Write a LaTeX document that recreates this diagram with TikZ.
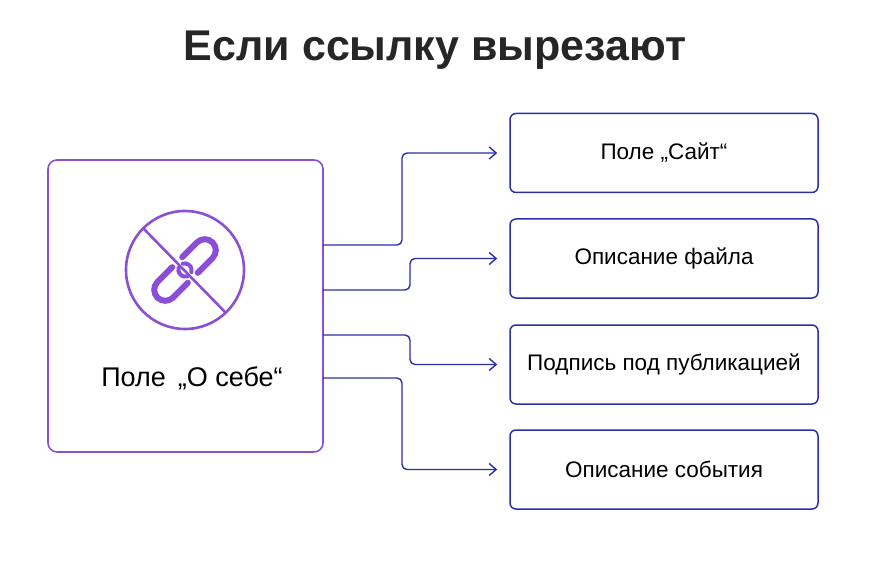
\documentclass[tikz,border=0pt]{standalone}
\usepackage{fontspec}
\setmainfont{Liberation Sans}
\usetikzlibrary{arrows.meta}
\definecolor{linkviolet}{HTML}{8A4FD6}
\definecolor{boxblue}{HTML}{2B2FA8}
\tikzset{
  target/.style={draw=boxblue, line width=1.5pt, rounded corners=6pt, minimum width=308pt, minimum height=79pt, font=\fontsize{22.5}{26}\selectfont},
  feed/.style={draw=boxblue, line width=1.4pt, rounded corners=5pt, -{Straight Barb[length=7pt,width=12pt]}},
}
\begin{document}
\begin{tikzpicture}[x=1pt,y=-1pt]
  \useasboundingbox (0,0) rectangle (870,580);
  \node[font=\fontsize{43}{48}\selectfont\bfseries, text=black!85] (title) at (435,50) {Если ссылку вырезают};
  % source box
  \node[draw=linkviolet, line width=1.6pt, rounded corners=9pt, minimum width=275pt, minimum height=292pt] (src) at (185.5,306) {};
  \node[font=\fontsize{27}{31}\selectfont] (srclabel) at (192,378) {Поле \,„О себе“};
  % icon
  \draw[linkviolet, line width=2.6pt] (185,270) circle (59);
  \draw[linkviolet, line width=2.6pt] (143,228) -- (225,312);
  \begin{scope}[shift={(185,270)}, rotate=45, linkviolet, line width=6pt, line cap=round]
    \draw (7,-11) -- (28,-11) arc (-90:90:11) -- (7,11);
    \draw (-7,-11) -- (-28,-11) arc (270:90:11) -- (-7,11);
    \draw[line width=4pt] (3,-6) arc (-60:60:7);
    \draw[line width=4pt] (-3,-6) arc (240:120:7);
  \end{scope}
  % targets
  \node[target] (site) at (664,153) {Поле „Сайт“};
  \node[target] (file) at (664,258.5) {Описание файла};
  \node[target] (post) at (664,364.5) {Подпись под публикацией};
  \node[target] (event) at (664,469.5) {Описание события};
  \coordinate (a1) at (323,245); \coordinate (a2) at (323,290);
  \coordinate (a3) at (323,335); \coordinate (a4) at (323,378);
  \draw[feed] (a1) -- (402,245) -- (402,153) -- ([xshift=-12pt]site.west);
  \draw[feed] (a2) -- (410,290) -- (410,258.5) -- ([xshift=-12pt]file.west);
  \draw[feed] (a3) -- (410,335) -- (410,364.5) -- ([xshift=-12pt]post.west);
  \draw[feed] (a4) -- (402,378) -- (402,469.5) -- ([xshift=-12pt]event.west);
\end{tikzpicture}
\end{document}
